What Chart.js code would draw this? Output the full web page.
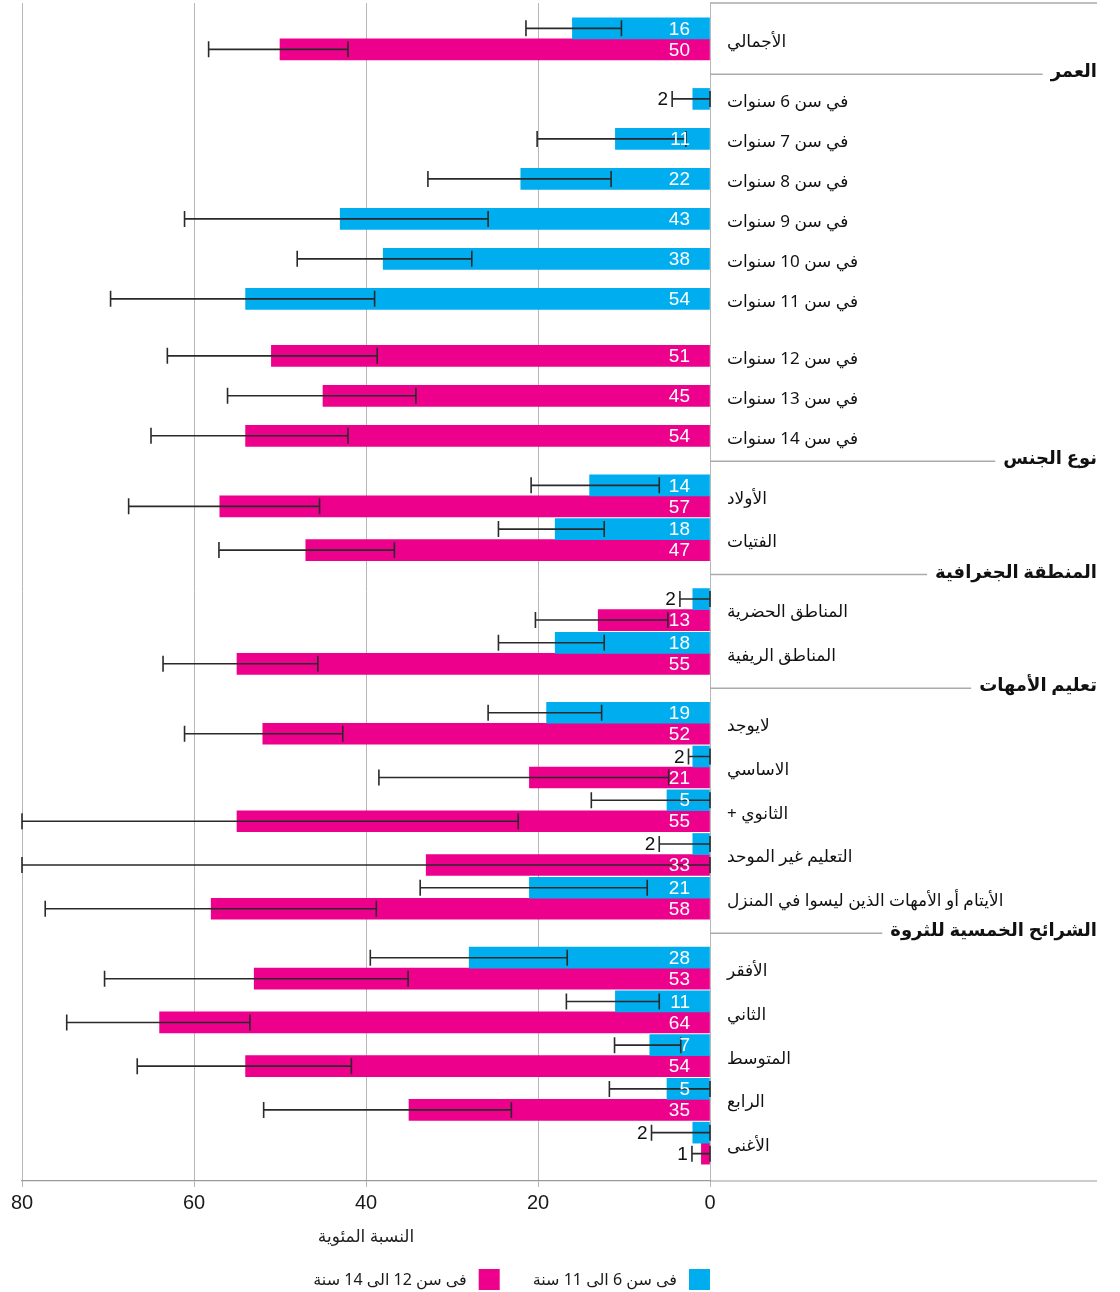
<!DOCTYPE html>
<html lang="ar">
<head>
<meta charset="utf-8">
<title>نسبة الأطفال خارج المدرسة</title>
<style>
  html, body { margin: 0; padding: 0; background: #ffffff; }
  #wrap { width: 1120px; height: 1292px; }
  canvas { display: block; }
</style>
<script src="https://cdn.jsdelivr.net/npm/chart.js@4.4.1/dist/chart.umd.min.js"></script>
</head>
<body>
<div id="wrap"><canvas id="chart" width="1120" height="1292" dir="rtl"></canvas></div>
<script>
// ---- Data ----------------------------------------------------------------
const rowLabels = [
  'الأجمالي',
  'في سن 6 سنوات', 'في سن 7 سنوات', 'في سن 8 سنوات', 'في سن 9 سنوات',
  'في سن 10 سنوات', 'في سن 11 سنوات',
  'في سن 12 سنوات', 'في سن 13 سنوات', 'في سن 14 سنوات',
  'الأولاد', 'الفتيات',
  'المناطق الحضرية', 'المناطق الريفية',
  'لايوجد', 'الاساسي', 'الثانوي +', 'التعليم غير الموحد',
  'الأيتام أو الأمهات الذين ليسوا في المنزل',
  'الأفقر', 'الثاني', 'المتوسط', 'الرابع', 'الأغنى'
];

const sectionTitles = [null, 'العمر', 'نوع الجنس', 'المنطقة الجغرافية', 'تعليم الأمهات', 'الشرائح الخمسية للثروة'];
const sectionSizes  = [1, 9, 2, 2, 5, 5];

const seriesNames = ['فى سن 6 الى 11 سنة', 'فى سن 12 الى 14 سنة'];

// Ages 6–11
const age6to11      = [16, 2, 11, 22, 43, 38, 54, null, null, null, 14, 18, 2, 18, 19, 2, 5, 2, 21, 28, 11, 7, 5, 2];
const age6to11Low   = [10.3, 0, 2.8, 11.5, 25.8, 27.7, 39.0, null, null, null, 5.9, 12.3, 0, 12.3, 12.6, 0, 0, 0, 7.3, 16.6, 5.9, 3.4, 0, 0];
const age6to11High  = [21.4, 4.4, 20.1, 32.8, 61.1, 48.0, 69.7, null, null, null, 20.8, 24.6, 3.5, 24.6, 25.8, 2.5, 13.8, 5.9, 33.7, 39.5, 16.7, 11.1, 11.7, 6.8];

// Ages 12–14
const age12to14     = [50, null, null, null, null, null, null, 51, 45, 54, 57, 47, 13, 55, 52, 21, 55, 33, 58, 53, 64, 54, 35, 1];
const age12to14Low  = [42.1, null, null, null, null, null, null, 38.7, 34.2, 42.1, 45.4, 36.7, 4.9, 45.6, 42.7, 4.8, 22.3, 0, 38.8, 35.1, 53.5, 41.7, 23.1, 0];
const age12to14High = [58.3, null, null, null, null, null, null, 63.1, 56.1, 65.0, 67.6, 57.1, 20.3, 63.6, 61.1, 38.5, 80, 80, 77.3, 70.4, 74.8, 66.6, 51.9, 2.1];

const xTickValues = [0, 20, 40, 60, 80];
const axisTitle = 'النسبة المئوية';

// ---- Styling -------------------------------------------------------------
const BLUE = '#00aeef';
const MAGENTA = '#ec008c';
const GRID = '#b7b7b7';
const RULE = '#aaaaaa';
const ARABIC_FONT = "'Noto Sans', 'DejaVu Sans', sans-serif";
const NUM_FONT = "'Liberation Sans', Arial, sans-serif";

// ---- Row layout along the category axis ---------------------------------
// Rows with both series are taller than rows with a single bar; a gap is
// opened for every section heading and between the two age sub-groups.
const SLOT = { pair: 43.75, single: 40 };
const GAP = { header: 26.25, headerBySingle: 18.2, subgroup: 17 };
const EDGE = { top: 14, bottom: 16 };

function layoutRows() {
  const centers = [];
  const headers = [];
  let cursor = EDGE.top;
  let idx = 0, prevKind = null, prevSeries = null;
  sectionSizes.forEach((size, s) => {
    for (let k = 0; k < size; k++, idx++) {
      const hasA = age6to11[idx] != null, hasB = age12to14[idx] != null;
      const kind = hasA && hasB ? 'pair' : 'single';
      const series = hasA && hasB ? 'both' : (hasA ? 'a' : 'b');
      if (k === 0 && s > 0) {
        const bySingle = kind === 'single' || prevKind === 'single';
        const gap = bySingle ? GAP.headerBySingle : GAP.header;
        // the heading rule leans toward the single-bar rows
        const frac = kind === 'single' ? 0.74 : (prevKind === 'single' ? 0.3 : 0.5);
        headers.push({ title: sectionTitles[s], pos: cursor + gap * frac });
        cursor += gap;
      } else if (k > 0 && kind === 'single' && prevKind === 'single' && series !== prevSeries) {
        cursor += GAP.subgroup;
      }
      const h = SLOT[kind];
      centers.push(cursor + h / 2);
      cursor += h;
      prevKind = kind; prevSeries = series;
    }
  });
  return { centers, headers, extent: cursor + EDGE.bottom };
}
const rows = layoutRows();

// ---- Drawing helpers (error bars, value labels, headings, legend) -------
const CAP = 8;
const annotations = {
  id: 'annotations',
  afterDatasetsDraw(chart) {
    const { ctx } = chart;
    const xs = chart.scales.x;
    const zeroPx = xs.getPixelForValue(0);
    ctx.save();
    chart.data.datasets.forEach((ds, di) => {
      const meta = chart.getDatasetMeta(di);
      meta.data.forEach((bar, i) => {
        const v = ds.data[i].x;
        if (v == null) return;
        const y = bar.y;
        const x1 = xs.getPixelForValue(ds.errLow[i]);
        const x2 = xs.getPixelForValue(ds.errHigh[i]);
        // error bar
        ctx.strokeStyle = '#2a2a2a';
        ctx.lineWidth = 1.6;
        ctx.beginPath();
        ctx.moveTo(x1, y); ctx.lineTo(x2, y);
        ctx.moveTo(x1, y - CAP); ctx.lineTo(x1, y + CAP);
        ctx.moveTo(x2, y - CAP); ctx.lineTo(x2, y + CAP);
        ctx.stroke();
        // value label
        ctx.font = '19px ' + NUM_FONT;
        ctx.textBaseline = 'middle';
        ctx.textAlign = 'right';
        if (v >= 4) {
          ctx.fillStyle = '#ffffff';
          ctx.fillText(String(v), zeroPx - 20, y + 1);
        } else {
          ctx.fillStyle = '#111111';
          ctx.fillText(String(v), Math.min(x1, x2) - 4, y + 1);
        }
      });
    });
    ctx.restore();
  },
  afterDraw(chart) {
    const { ctx, chartArea } = chart;
    const xs = chart.scales.x, ys = chart.scales.y;
    const right = ys.right;
    ctx.save();
    ctx.direction = 'rtl';
    // frame rules of the label column
    ctx.strokeStyle = RULE;
    ctx.lineWidth = 1.5;
    ctx.beginPath();
    ctx.moveTo(chartArea.right, chartArea.top); ctx.lineTo(right, chartArea.top);
    ctx.stroke();
    ctx.strokeStyle = '#9a9a9a';
    ctx.lineWidth = 1.2;
    ctx.beginPath();
    ctx.moveTo(chartArea.right, chartArea.bottom); ctx.lineTo(right, chartArea.bottom);
    ctx.stroke();
    // section headings
    ctx.font = 'bold 18px ' + ARABIC_FONT;
    ctx.textAlign = 'right';
    ctx.textBaseline = 'middle';
    rows.headers.forEach(h => {
      const y = ys.getPixelForValue(h.pos);
      const w = ctx.measureText(h.title).width;
      ctx.strokeStyle = RULE;
      ctx.lineWidth = 1.5;
      ctx.beginPath();
      ctx.moveTo(chartArea.right, y); ctx.lineTo(right - w - 8, y);
      ctx.stroke();
      ctx.fillStyle = '#111111';
      ctx.fillText(h.title, right, y - 2);
    });
    // legend, laid out right to left
    const ly = xs.bottom + 29;
    let lx = chartArea.right;
    ctx.font = '16px ' + ARABIC_FONT;
    chart.data.datasets.forEach(ds => {
      ctx.fillStyle = ds.backgroundColor;
      ctx.fillRect(lx - 21, ly - 11, 21, 21);
      ctx.fillStyle = '#1a1a1a';
      const tx = lx - 21 - 12;
      ctx.fillText(ds.label, tx, ly);
      lx = tx - ctx.measureText(ds.label).width - 33;
    });
    ctx.restore();
  }
};

// ---- Chart ---------------------------------------------------------------
const toPoints = vals => vals.map((v, i) => ({ x: v, y: rows.centers[i] }));

new Chart(document.getElementById('chart').getContext('2d'), {
  type: 'bar',
  data: {
    datasets: [
      {
        label: seriesNames[0],
        data: toPoints(age6to11),
        errLow: age6to11Low, errHigh: age6to11High,
        backgroundColor: BLUE,
        barThickness: 21,
        skipNull: true
      },
      {
        label: seriesNames[1],
        data: toPoints(age12to14),
        errLow: age12to14Low, errHigh: age12to14High,
        backgroundColor: MAGENTA,
        barThickness: 21,
        skipNull: true
      }
    ]
  },
  options: {
    indexAxis: 'y',
    responsive: false,
    animation: false,
    devicePixelRatio: 1,
    layout: { padding: { left: 22, right: 23, top: 3, bottom: 41 } },
    scales: {
      x: {
        type: 'linear',
        position: 'bottom',
        reverse: true,
        min: 0, max: 80,
        afterBuildTicks: s => { s.ticks = xTickValues.map(v => ({ value: v })); },
        grid: { color: GRID, lineWidth: 1, tickLength: 6, drawTicks: true },
        border: { display: true, color: '#9a9a9a', width: 1.2 },
        ticks: { font: { size: 20, family: NUM_FONT }, color: '#1a1a1a', padding: 4, maxRotation: 0, autoSkip: false },
        title: { display: true, text: axisTitle, font: { size: 17, family: ARABIC_FONT }, color: '#222222', padding: { top: 4, bottom: 4 } },
        afterFit: s => { s.height = 70; }
      },
      y: {
        type: 'linear',
        position: 'right',
        reverse: true,
        min: 0, max: rows.extent,
        offset: false,
        grid: { display: false, drawTicks: false, offset: false },
        border: { display: false },
        afterBuildTicks: s => { s.ticks = rows.centers.map(v => ({ value: v })); },
        ticks: {
          autoSkip: false,
          callback: (v, i) => rowLabels[i],
          crossAlign: 'near',
          padding: 17,
          labelOffset: 3,
          font: { size: 17, family: ARABIC_FONT },
          color: '#111111'
        },
        afterFit: s => {
          s.width = 387;
          // row labels sit well inside the plot, no overflow room needed
          s.paddingTop = 0;
          s.paddingBottom = 0;
        }
      }
    },
    plugins: { legend: { display: false }, tooltip: { enabled: false } }
  },
  plugins: [annotations]
});
</script>
</body>
</html>
